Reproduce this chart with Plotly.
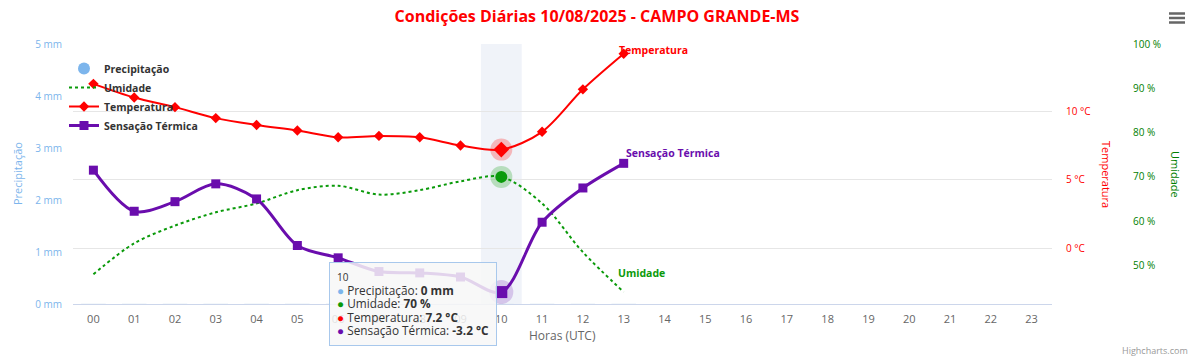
import plotly.graph_objects as go

# ---------------- data ----------------
hour_labels = [f"{h:02d}" for h in range(24)]
hours = list(range(14))
precipitacao = [0, 0, 0, 0, 0, 0, 0, 0, 0, 0, 0, 0, 0, 0]
umidade = [48, 55, 59, 62, 64, 67, 68, 66, 67, 69, 70, 64, 53, 44]
temperatura = [12.0, 11.0, 10.3, 9.5, 9.0, 8.6, 8.1, 8.2, 8.1, 7.5, 7.2, 8.5, 11.6, 14.2]
sensacao = [5.7, 2.7, 3.4, 4.7, 3.6, 0.2, -0.7, -1.7, -1.8, -2.1, -3.2, 1.9, 4.4, 6.2]
prec_ticks = [0, 1, 2, 3, 4, 5]
umid_ticks = [50, 60, 70, 80, 90, 100]
temp_ticks = [0, 5, 10]
hover_idx = 10

# ---------------- style ----------------
C_PREC = "#7cb5ec"
C_UMID = "#0a9a0a"
C_TEMP = "#ff0000"
C_SENS = "#6a0dad"
FONT = "Open Sans"

W, H = 1194, 358
L, R, T, B = 73, 1052, 44, 304
PW, PH = R - L, B - T


def px(x):
    return (x - L) / PW


def py(y):
    return (B - y) / PH


fig = go.Figure()

# Precipitação (zero-height columns) + legend entry
fig.add_trace(go.Bar(x=hours, y=precipitacao, marker_color=C_PREC, yaxis="y",
                     showlegend=False, hoverinfo="skip", width=0.6))
fig.add_trace(go.Scatter(x=[None], y=[None], mode="markers", name="Precipitação",
                         marker=dict(symbol="circle", size=12, color=C_PREC), yaxis="y"))

# Umidade
fig.add_trace(go.Scatter(x=hours, y=umidade, mode="lines", name="Umidade", yaxis="y2",
                         line=dict(color=C_UMID, width=2, dash="dot", shape="spline", smoothing=0.9)))
fig.add_trace(go.Scatter(x=[hours[hover_idx]], y=[umidade[hover_idx]], mode="markers", yaxis="y2",
                         showlegend=False, hoverinfo="skip",
                         marker=dict(size=22, color="rgba(10,154,10,0.25)")))
fig.add_trace(go.Scatter(x=[hours[hover_idx]], y=[umidade[hover_idx]], mode="markers", yaxis="y2",
                         showlegend=False, hoverinfo="skip",
                         marker=dict(size=12, color=C_UMID)))

# Temperatura
fig.add_trace(go.Scatter(x=hours, y=temperatura, mode="lines+markers", name="Temperatura", yaxis="y3",
                         line=dict(color=C_TEMP, width=2, shape="spline", smoothing=0.9),
                         marker=dict(symbol="diamond", size=8, color=C_TEMP)))
fig.add_trace(go.Scatter(x=[hours[hover_idx]], y=[temperatura[hover_idx]], mode="markers", yaxis="y3",
                         showlegend=False, hoverinfo="skip",
                         marker=dict(size=22, color="rgba(255,0,0,0.25)")))
fig.add_trace(go.Scatter(x=[hours[hover_idx]], y=[temperatura[hover_idx]], mode="markers", yaxis="y3",
                         showlegend=False, hoverinfo="skip",
                         marker=dict(symbol="diamond", size=12, color=C_TEMP)))

# Sensação Térmica
fig.add_trace(go.Scatter(x=hours, y=sensacao, mode="lines+markers", name="Sensação Térmica", yaxis="y3",
                         line=dict(color=C_SENS, width=3, shape="spline", smoothing=0.9),
                         marker=dict(symbol="square", size=9, color=C_SENS)))
fig.add_trace(go.Scatter(x=[hours[hover_idx]], y=[sensacao[hover_idx]], mode="markers", yaxis="y3",
                         showlegend=False, hoverinfo="skip",
                         marker=dict(size=24, color="rgba(106,13,173,0.2)")))
fig.add_trace(go.Scatter(x=[hours[hover_idx]], y=[sensacao[hover_idx]], mode="markers", yaxis="y3",
                         showlegend=False, hoverinfo="skip",
                         marker=dict(symbol="square", size=12, color=C_SENS)))

annotations = []
# series end labels
last = len(hours) - 1
LBL = dict(family=FONT, size=10.5, weight="bold")
annotations.append(dict(x=hours[last], y=temperatura[last], xref="x", yref="y3", text="Temperatura",
                        showarrow=False, xanchor="left", yanchor="middle", xshift=-7, yshift=4,
                        font=dict(LBL, color=C_TEMP)))
annotations.append(dict(x=hours[last], y=sensacao[last], xref="x", yref="y3", text="Sensação Térmica",
                        showarrow=False, xanchor="left", yanchor="middle", xshift=0, yshift=10,
                        font=dict(LBL, color=C_SENS)))
annotations.append(dict(x=hours[last], y=umidade[last], xref="x", yref="y2", text="Umidade",
                        showarrow=False, xanchor="left", yanchor="middle", xshift=-8, yshift=19,
                        font=dict(LBL, color=C_UMID)))

# axis titles
annotations.append(dict(x=px(17), y=0.5, xref="paper", yref="paper", text="Precipitação", textangle=-90,
                        xanchor="center", yanchor="middle",
                        showarrow=False, font=dict(family=FONT, size=11, color=C_PREC)))
annotations.append(dict(x=px(1107), y=py(174), xref="paper", yref="paper", text="Temperatura", textangle=90,
                        xanchor="center", yanchor="middle",
                        showarrow=False, font=dict(family=FONT, size=11, color=C_TEMP)))
annotations.append(dict(x=px(1176), y=py(174), xref="paper", yref="paper", text="Umidade", textangle=90,
                        xanchor="center", yanchor="middle",
                        showarrow=False, font=dict(family=FONT, size=11, color="#008000")))
annotations.append(dict(x=0.5, y=py(335), xref="paper", yref="paper", text="Horas (UTC)",
                        xanchor="center", yanchor="middle",
                        showarrow=False, font=dict(family=FONT, size=12, color="#666666")))

# tooltip (tight line spacing: small base font, larger inner spans)
S = "<span style='font-size:11.8px'>"
tip = (f"<span style='font-size:10px'>{hour_labels[hover_idx]}</span><br>"
       f"{S}<span style='color:{C_PREC}'>●</span> Precipitação: <b>{precipitacao[hover_idx]} mm</b></span><br>"
       f"{S}<span style='color:{C_UMID}'>●</span> Umidade: <b>{umidade[hover_idx]} %</b></span><br>"
       f"{S}<span style='color:{C_TEMP}'>●</span> Temperatura: <b>{temperatura[hover_idx]} °C</b></span><br>"
       f"{S}<span style='color:{C_SENS}'>●</span> Sensação Térmica: <b>{sensacao[hover_idx]} °C</b></span>")
annotations.append(dict(x=hours[hover_idx], y=py(262), xref="x", yref="paper", text=tip, align="left",
                        showarrow=False, xanchor="right", yanchor="top", xshift=-4,
                        bgcolor="rgba(247,247,247,0.85)", bordercolor="#a8c8ec", borderwidth=1, borderpad=7,
                        font=dict(family=FONT, size=10.4, color="#333333")))

# credits
annotations.append(dict(x=px(1190), y=py(350), xref="paper", yref="paper", text="Highcharts.com",
                        showarrow=False, xanchor="right", yanchor="middle",
                        font=dict(family=FONT, size=9, color="#999999")))

shapes = [dict(type="rect", xref="x", yref="paper", x0=hours[hover_idx] - 0.5, x1=hours[hover_idx] + 0.5,
               y0=0, y1=1, fillcolor="rgba(204,214,235,0.3)", line_width=0, layer="below")]
for yy in (13.5, 18, 22.5):
    shapes.append(dict(type="line", xref="paper", yref="paper", x0=px(1169), x1=px(1185),
                       y0=py(yy), y1=py(yy), line=dict(color="#666666", width=2.5)))

fig.update_layout(
    width=W, height=H,
    margin=dict(l=L, r=W - R, t=T, b=H - B, autoexpand=False),
    paper_bgcolor="white", plot_bgcolor="white",
    font=dict(family=FONT, size=11, color="#666666"),
    title=dict(text="<b>Condições Diárias 10/08/2025 - CAMPO GRANDE-MS</b>", x=0.5, xanchor="center",
               y=1 - 16 / H, yanchor="middle", font=dict(family=FONT, size=16, color="#ff0000")),
    showlegend=True,
    legend=dict(x=px(64), y=py(54), xanchor="left", yanchor="top", bgcolor="rgba(0,0,0,0)",
                font=dict(family=FONT, size=10.5, color="#333333", weight="bold"), tracegroupgap=0),
    xaxis=dict(range=[-0.5, 23.5], tickmode="array", tickvals=list(range(24)), ticktext=hour_labels,
               showgrid=False, zeroline=False, showline=True, linecolor="#ccd6eb", linewidth=1,
               ticks="", ticklabelstandoff=5, tickfont=dict(family=FONT, size=11, color="#666666"),
               automargin=False),
    yaxis=dict(range=[0, 5], tickmode="array", tickvals=prec_ticks,
               ticktext=[f"{v} mm" for v in prec_ticks], showgrid=False,
               zeroline=False, showline=False, ticks="", ticklabelstandoff=10,
               tickfont=dict(family=FONT, size=10, color=C_PREC), automargin=False),
    yaxis2=dict(range=[41.3, 100], tickmode="array", tickvals=umid_ticks,
                ticktext=[f"{v} %" for v in umid_ticks], overlaying="y",
                side="right", anchor="x", showgrid=False, zeroline=False, showline=False, ticks="",
                ticklabelstandoff=80, tickfont=dict(family=FONT, size=10, color="#008000"), automargin=False),
    yaxis3=dict(range=[-4.07, 14.91], tickmode="array", tickvals=temp_ticks,
                ticktext=[f"{v} °C" for v in temp_ticks], overlaying="y",
                side="right", anchor="x", showgrid=True, gridcolor="#e6e6e6", zeroline=False, showline=False,
                ticks="", ticklabelstandoff=13, tickfont=dict(family=FONT, size=10, color=C_TEMP),
                automargin=False),
    annotations=annotations,
    shapes=shapes,
    bargap=0.2,
)

fig.write_html("out.html")
